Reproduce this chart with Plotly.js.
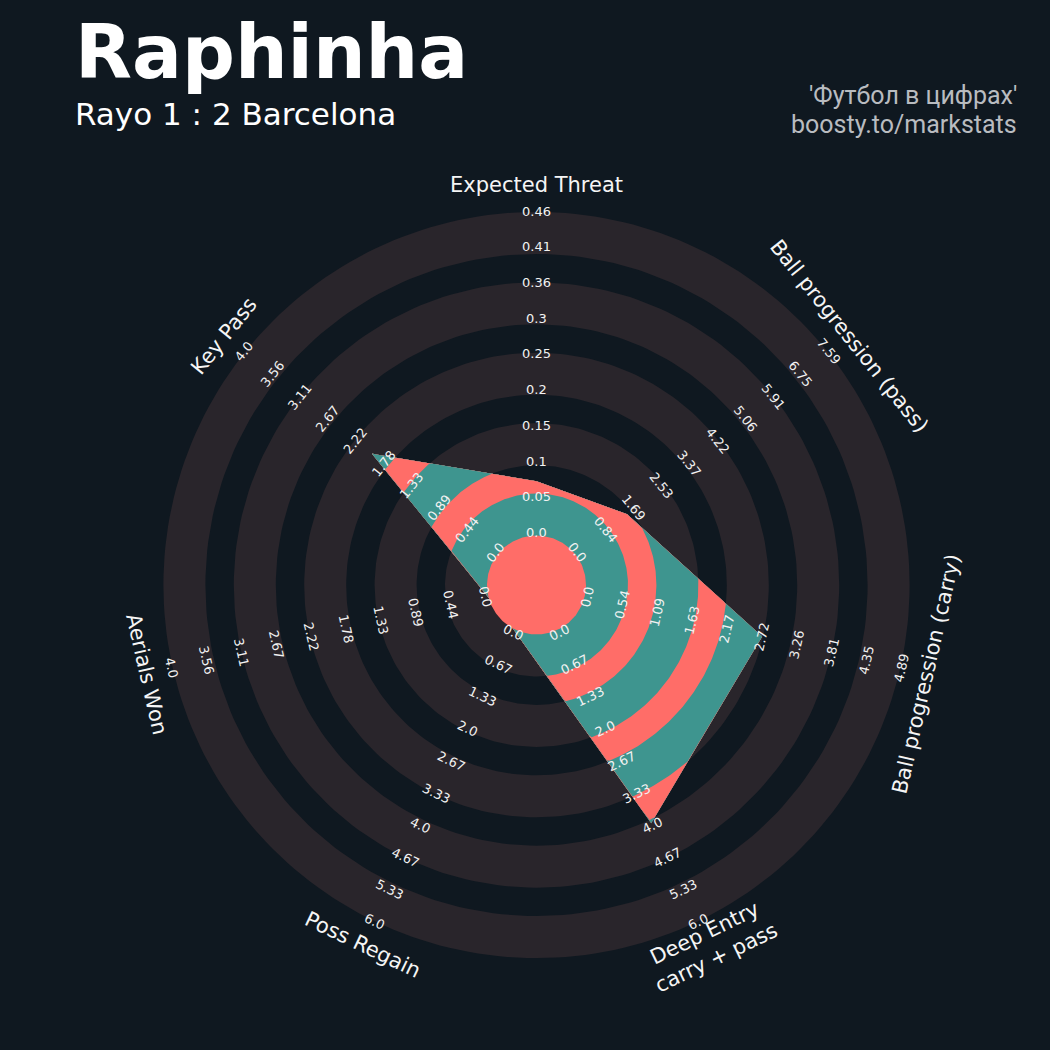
<!DOCTYPE html>
<html>
<head>
<meta charset="utf-8">
<script src="https://cdn.plot.ly/plotly-3.0.1.min.js"></script>
<style>html,body{margin:0;padding:0;background:#0f1820;}#chart{width:1050px;height:1050px;}</style>
</head>
<body>
<div id="chart"></div>
<script>
// ---------- data ----------
const params = ['Expected Threat', 'Ball progression (pass)', 'Ball progression (carry)',
  'Deep Entry<br>carry + pass', 'Poss Regain', 'Aerials Won', 'Key Pass'];
const values = [0.077, 1.53, 2.76, 4.0, 0.0, 0.0, 2.0];
const lows = [0, 0, 0, 0, 0, 0, 0];
const highs = [0.46, 7.59, 4.89, 6.0, 6.0, 4.0, 4.0];
const tickLabels = [
  ['0.0','0.05','0.1','0.15','0.2','0.25','0.3','0.36','0.41','0.46'],
  ['0.0','0.84','1.69','2.53','3.37','4.22','5.06','5.91','6.75','7.59'],
  ['0.0','0.54','1.09','1.63','2.17','2.72','3.26','3.81','4.35','4.89'],
  ['0.0','0.67','1.33','2.0','2.67','3.33','4.0','4.67','5.33','6.0'],
  ['0.0','0.67','1.33','2.0','2.67','3.33','4.0','4.67','5.33','6.0'],
  ['0.0','0.44','0.89','1.33','1.78','2.22','2.67','3.11','3.56','4.0'],
  ['0.0','0.44','0.89','1.33','1.78','2.22','2.67','3.11','3.56','4.0']
];
const titleText = 'Raphinha';
const subtitleText = 'Rayo 1 : 2 Barcelona';
const creditLines = ["'Футбол в цифрах'", 'boosty.to/markstats'];

// ---------- style / geometry ----------
const BG = '#0f1820', RING = '#29252b', TEAL = '#3e958f', SALMON = '#ff6d68';
const R0 = 50, R1 = 371.5;            // radial positions of low / high
const CENTER_R = 49.5;
const RING_GRAY_W = 42, RING_PERIOD = 70.4, N_RINGS = 5;
const LABEL_R = 400;
const FONT = 'DejaVu Sans';

const n = params.length;
const deg = Math.PI / 180;
const angles = params.map((_, i) => 90 - i * 360 / n);   // degrees, clockwise from top
const rmap = (v, i) => R0 + (v - lows[i]) / (highs[i] - lows[i]) * (R1 - R0);

function circlePts(r, reverse) {
  const xs = [], ys = [];
  const N = 240;
  for (let k = 0; k <= N; k++) {
    const t = (reverse ? (N - k) : k) / N * 2 * Math.PI;
    xs.push(r * Math.cos(t)); ys.push(r * Math.sin(t));
  }
  return [xs, ys];
}

const traces = [];
// background rings (gray annuli)
const bounds = [];
for (let i = 0; i < N_RINGS; i++) {
  const rin = CENTER_R + i * RING_PERIOD, rout = rin + RING_GRAY_W;
  bounds.push(rin, rout);
  const [ox, oy] = circlePts(rout, false);
  const [ix, iy] = circlePts(rin, true);
  traces.push({type: 'scatter', mode: 'lines', x: ox.concat(ix), y: oy.concat(iy),
    fill: 'toself', fillcolor: RING, line: {width: 0}, hoverinfo: 'skip'});
}

// radar polygon radial function
const vr = values.map((v, i) => rmap(v, i));
function polyPts(clip) {
  const xs = [], ys = [];
  const M = 80;
  for (let i = 0; i < n; i++) {
    const j = (i + 1) % n;
    const a = angles[i] * deg, b = (angles[i] - 360 / n) * deg;
    const ri = vr[i], rj = vr[j];
    for (let k = 0; k < M; k++) {
      const t = a + (b - a) * k / M;
      const rho = ri * rj * Math.sin(a - b) / (ri * Math.sin(a - t) + rj * Math.sin(t - b));
      const r = Math.min(rho, clip);
      xs.push(r * Math.cos(t)); ys.push(r * Math.sin(t));
    }
  }
  xs.push(xs[0]); ys.push(ys[0]);
  return [xs, ys];
}
// layered bands: gray ring zones -> teal, dark gap zones -> salmon
const sortedB = bounds.slice(1).sort((p, q) => q - p);
sortedB.forEach((b) => {
  const idx = bounds.indexOf(b);
  const color = (idx % 2 === 1) ? TEAL : SALMON;
  const [px, py] = polyPts(b);
  traces.push({type: 'scatter', mode: 'lines', x: px, y: py, fill: 'toself',
    fillcolor: color, line: {width: 0}, hoverinfo: 'skip'});
});
// center disk
{
  const [cx, cy] = circlePts(CENTER_R, false);
  traces.push({type: 'scatter', mode: 'lines', x: cx, y: cy, fill: 'toself',
    fillcolor: SALMON, line: {width: 0}, hoverinfo: 'skip'});
}

function rot(thetaDeg) {
  let r = 90 - thetaDeg;
  r = ((r + 180) % 360 + 360) % 360 - 180;
  if (r > 90) r -= 180;
  if (r < -90) r += 180;
  return r;
}

const annotations = [];
for (let i = 0; i < n; i++) {
  const th = angles[i] * deg;
  tickLabels[i].forEach((lab, k) => {
    const v = lows[i] + k * (highs[i] - lows[i]) / (tickLabels[i].length - 1);
    const r = rmap(v, i) + 2.5;
    annotations.push({x: r * Math.cos(th), y: r * Math.sin(th), xref: 'x', yref: 'y',
      text: lab, showarrow: false, textangle: rot(angles[i]),
      xanchor: 'center', yanchor: 'middle',
      font: {family: FONT, size: 13, color: '#f2f2f2'}});
  });
  annotations.push({x: LABEL_R * Math.cos(th), y: LABEL_R * Math.sin(th), xref: 'x', yref: 'y',
    text: params[i], showarrow: false, textangle: rot(angles[i]),
    xanchor: 'center', yanchor: 'middle', align: 'center',
    font: {family: FONT, size: 21, color: '#f5f5f5'}});
}
// titles
annotations.push({x: 73 / 1050, y: 1 - 52 / 1050, xref: 'paper', yref: 'paper', text: '<b>' + titleText + '</b>',
  showarrow: false, xanchor: 'left', yanchor: 'middle', font: {family: FONT, size: 74, color: '#ffffff'}});
annotations.push({x: 73 / 1050, y: 1 - 114 / 1050, xref: 'paper', yref: 'paper', text: subtitleText,
  showarrow: false, xanchor: 'left', yanchor: 'middle', font: {family: FONT, size: 31, color: '#ffffff'}});
annotations.push({x: 1019 / 1050, y: 1 - 96 / 1050, xref: 'paper', yref: 'paper', text: creditLines[0],
  showarrow: false, xanchor: 'right', yanchor: 'middle', font: {family: 'Roboto', size: 25, color: '#b9bcc0'}});
annotations.push({x: 1019 / 1050, y: 1 - 124 / 1050, xref: 'paper', yref: 'paper', text: creditLines[1],
  showarrow: false, xanchor: 'right', yanchor: 'middle', font: {family: 'Roboto', size: 25, color: '#b9bcc0'}});

const layout = {
  width: 1050, height: 1050,
  margin: {l: 0, r: 0, t: 0, b: 0, pad: 0},
  paper_bgcolor: BG, plot_bgcolor: BG,
  showlegend: false,
  xaxis: {range: [-536.5, 513.5], visible: false, fixedrange: true},
  yaxis: {range: [-465, 585], visible: false, fixedrange: true},
  annotations: annotations,
  hovermode: false
};
Plotly.newPlot('chart', traces, layout, {staticPlot: true, displayModeBar: false});
</script>
</body>
</html>
